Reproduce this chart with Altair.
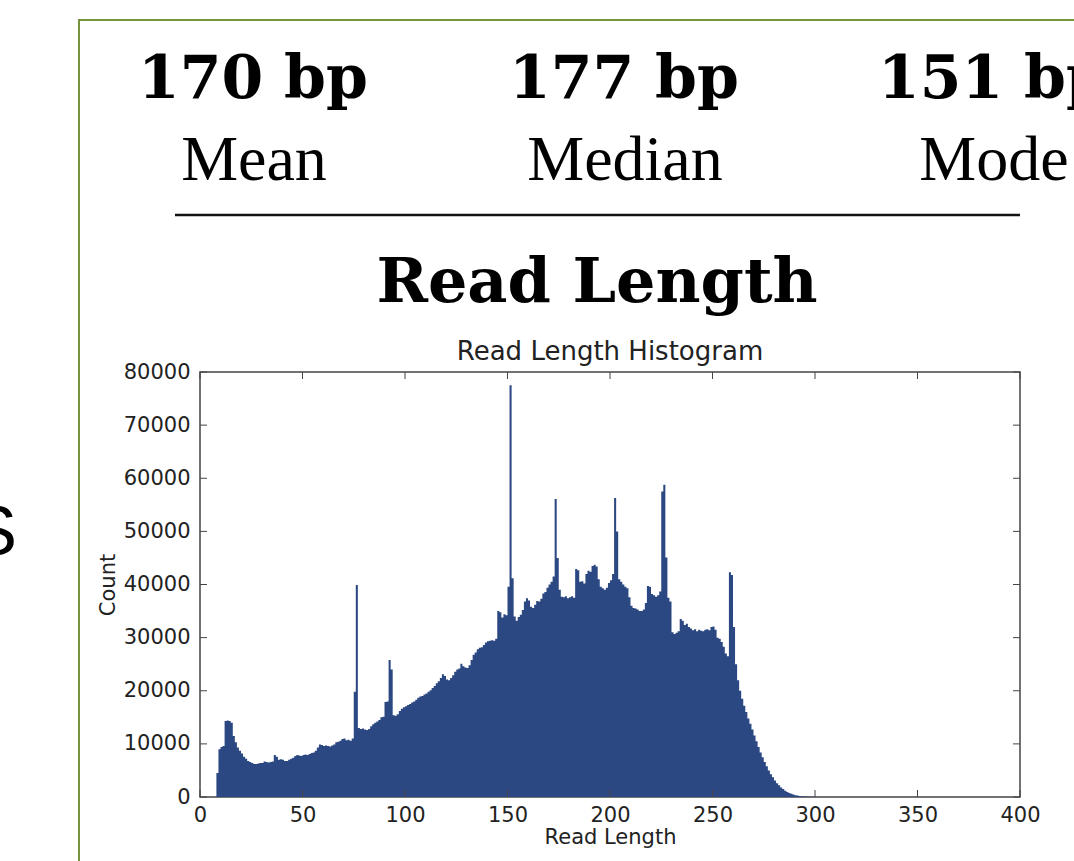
import altair as alt
import pandas as pd

# ---------------- data ----------------
read_length = list(range(8, 301))
read_count = [
    4500, 9000, 9400, 9600, 14300, 14400, 14300, 14000, 11500, 10300,      # 8-17
    9300, 8700, 8200, 7600, 7200, 6800, 6600, 6400, 6200, 6200,            # 18-27
    6300, 6400, 6400, 6700, 6600, 6500, 6600, 6700, 7900, 7600,            # 28-37
    7000, 7100, 7000, 6800, 6800, 7000, 7200, 7400, 7700, 7900,            # 38-47
    7800, 7700, 7900, 8000, 7900, 8100, 8300, 8400, 8700, 9300,            # 48-57
    9900, 9800, 9600, 9700, 9600, 9500, 9700, 9900, 10300, 10400,          # 58-67
    10600, 10900, 11000, 10700, 10800, 10600, 11000, 19800, 39900, 13000,  # 68-77
    12800, 12900, 12700, 12600, 12800, 13300, 13700, 14000, 14200, 14500,  # 78-87
    15000, 15100, 17900, 18000, 25800, 24000, 15400, 15300, 15600, 16200,  # 88-97
    16600, 16900, 17100, 17300, 17500, 17800, 18000, 18300, 18700, 18900,  # 98-107
    19000, 19300, 19500, 19800, 20100, 20500, 20900, 21400, 21800, 22400,  # 108-117
    23100, 22800, 22100, 22000, 22400, 22900, 23600, 24000, 24200, 25100,  # 118-127
    24600, 24400, 24300, 24800, 25800, 26800, 27200, 27800, 28100, 28200,  # 128-137
    28600, 29100, 29300, 29400, 29500, 29400, 29800, 35000, 34800, 33800,  # 138-147
    34400, 34200, 39600, 77500, 41200, 34000, 33200, 33900, 34300, 35200,  # 148-157
    36800, 37400, 37000, 35800, 35600, 36200, 36900, 36800, 37300, 38300,  # 158-167
    38600, 39400, 40000, 40500, 41500, 56100, 45000, 39000, 37700, 37600,  # 168-177
    37800, 37400, 37600, 37800, 37500, 42900, 42700, 40500, 40600, 40200,  # 178-187
    42000, 42600, 42400, 43500, 43700, 43400, 41000, 39600, 39300, 39000,  # 188-197
    39400, 40300, 40800, 42000, 56300, 50000, 41000, 40500, 40000, 39600,  # 198-207
    39300, 37600, 36000, 35600, 35500, 35300, 35000, 35000, 35300, 36500,  # 208-217
    39700, 39600, 38200, 38000, 37700, 38000, 38700, 57500, 58800, 45100,  # 218-227
    37500, 36800, 31000, 30700, 30900, 31200, 33500, 33200, 32400, 32600,  # 228-237
    32000, 31700, 31400, 31600, 31200, 31500, 31300, 31200, 31500, 31600,  # 238-247
    31400, 32000, 32100, 31500, 30000, 29800, 29200, 28300, 27000, 26500,  # 248-257
    42300, 41800, 32000, 25000, 22000, 20000, 18500, 17200, 16000, 14800,  # 258-267
    13800, 12700, 11600, 10500, 9400, 8400, 7500, 6600, 5800, 5000,        # 268-277
    4300, 3700, 3100, 2600, 2200, 1800, 1500, 1200, 950, 750,              # 278-287
    600, 450, 350, 270, 200, 150, 110, 80, 60, 40,                         # 288-297
    30, 20, 10,                                                            # 298-300
]
assert len(read_length) == len(read_count)

x_ticks = [0, 50, 100, 150, 200, 250, 300, 350, 400]
y_ticks = [0, 10000, 20000, 30000, 40000, 50000, 60000, 70000, 80000]

stat_values = ["170 bp", "177 bp", "151 bp"]
stat_names = ["Mean", "Median", "Mode"]
section_title = "Read Length"
plot_title = "Read Length Histogram"
x_title = "Read Length"
y_title = "Count"
side_letter = "S"

# ---------------- layout (pixels, relative to plot area) ----------------
W, H = 820, 425
PAD = {"left": 200, "top": 372, "right": 54, "bottom": 64}
stat_x = [53, 424, 793]
BAR_COLOR = "#2c4882"
TICK_COLOR = "#444444"
TEXT_COLOR = "#222222"

# histogram as a step area (bin edges: length .. length+1)
hist_df = pd.DataFrame({
    "length": read_length + [read_length[-1] + 1],
    "count": read_count + [0],
})

xs = alt.Scale(domain=[0, 400], nice=False, zero=False)
ys = alt.Scale(domain=[0, 80000], nice=False)

axis_common = dict(
    labelFont="DejaVu Sans", labelFontSize=21, labelColor=TEXT_COLOR,
    ticks=False, domain=False, grid=False, labelFlush=False,
    titleFont="DejaVu Sans", titleFontSize=21, titleFontWeight="normal",
    titleColor=TEXT_COLOR,
)
x_axis = alt.Axis(values=x_ticks, title=x_title, labelPadding=7,
                  titlePadding=1, **axis_common)
y_axis = alt.Axis(values=y_ticks, format="d", title=y_title,
                  labelPadding=10, titlePadding=5, **axis_common)

hist = alt.Chart(hist_df).mark_area(
    interpolate="step-after", color=BAR_COLOR
).encode(
    x=alt.X("length:Q", scale=xs, axis=x_axis),
    y=alt.Y("count:Q", scale=ys, axis=y_axis),
)

xt = pd.DataFrame({"v": x_ticks})
yt = pd.DataFrame({"v": y_ticks})
TL = 7
tick_bottom = alt.Chart(xt).mark_rule(color=TICK_COLOR, strokeWidth=1).encode(
    x=alt.X("v:Q", scale=xs, axis=x_axis), y=alt.value(H), y2=alt.value(H - TL))
tick_top = alt.Chart(xt).mark_rule(color=TICK_COLOR, strokeWidth=1).encode(
    x=alt.X("v:Q", scale=xs, axis=x_axis), y=alt.value(0), y2=alt.value(TL))
tick_left = alt.Chart(yt).mark_rule(color=TICK_COLOR, strokeWidth=1).encode(
    y=alt.Y("v:Q", scale=ys, axis=y_axis), x=alt.value(0), x2=alt.value(TL))
tick_right = alt.Chart(yt).mark_rule(color=TICK_COLOR, strokeWidth=1).encode(
    y=alt.Y("v:Q", scale=ys, axis=y_axis), x=alt.value(W), x2=alt.value(W - TL))


def text_layer(s, x, y, size, font, weight="normal", align="center", color="#000000"):
    return alt.Chart(pd.DataFrame({"t": [s]})).mark_text(
        font=font, fontSize=size, fontWeight=weight, align=align,
        baseline="alphabetic", color=color,
    ).encode(text="t:N", x=alt.value(x), y=alt.value(y))


one = pd.DataFrame({"k": [0]})
slide_frame = alt.Chart(one).mark_rect(
    fillOpacity=0, stroke="#77933c", strokeWidth=2
).encode(x=alt.value(-121), x2=alt.value(1000), y=alt.value(-352), y2=alt.value(700))

header_rule = alt.Chart(one).mark_rule(color="#111111", strokeWidth=2.5).encode(
    x=alt.value(-25), x2=alt.value(W), y=alt.value(-157))

layers = [slide_frame, header_rule]
for s, x in zip(stat_values, stat_x):
    layers.append(text_layer(s, x, -274, 60, "DejaVu Serif", "bold"))
for s, x in zip(stat_names, stat_x):
    layers.append(text_layer(s, x + 1, -192, 64, "Liberation Serif"))
layers.append(text_layer(section_title, 397, -70, 62, "DejaVu Serif", "bold"))
layers.append(text_layer(side_letter, -183, 183, 70, "Liberation Sans", align="right"))
layers.append(text_layer(plot_title, W / 2, -12, 26, "DejaVu Sans", color=TEXT_COLOR))
layers += [hist, tick_bottom, tick_top, tick_left, tick_right]

chart = alt.layer(*layers).properties(
    width=W, height=H, padding=PAD,
    autosize=alt.AutoSizeParams(type="none"),
    background="white",
).configure_view(stroke=TICK_COLOR, strokeWidth=1.5)

chart.save("out.html", embed_options={"renderer": "svg", "actions": False})
